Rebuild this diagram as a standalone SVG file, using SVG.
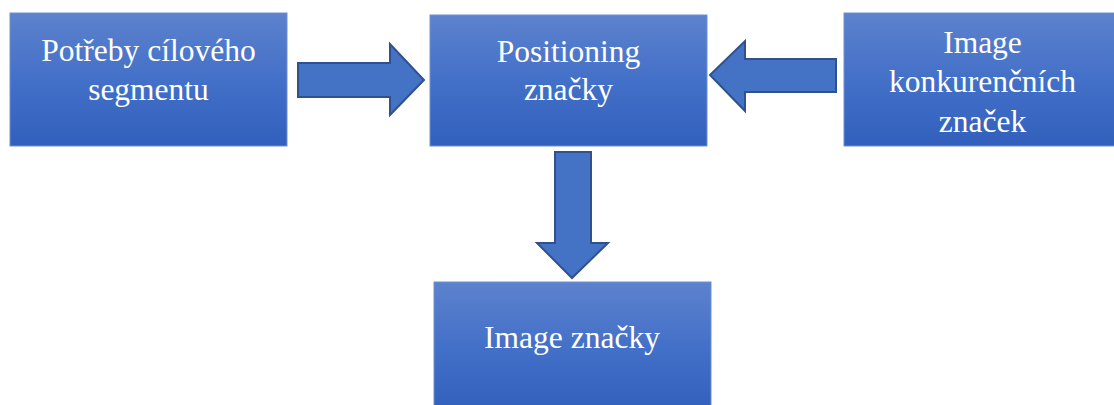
<svg xmlns="http://www.w3.org/2000/svg" width="1114" height="405" viewBox="0 0 1114 405">
<defs>
<linearGradient id="g" x1="0" y1="0" x2="0" y2="1">
<stop offset="0" stop-color="#5d82cd"/>
<stop offset="0.5" stop-color="#4370c8"/>
<stop offset="1" stop-color="#3160bc"/>
</linearGradient>
<style>
.box{fill:url(#g);stroke:#6f8fd2;stroke-width:1}
.arr{fill:#4472c4;stroke:#2f528f;stroke-width:2;stroke-linejoin:miter}
.t{font-family:'Times New Roman','Liberation Serif',Times,'DejaVu Serif',serif;font-size:31.5px;fill:#ffffff;text-anchor:middle}
</style>
</defs>
<rect width="1114" height="405" fill="#ffffff"/>
<g id="connectors">
<path class="arr" d="M298,63 H390 V44 L424,80 L390,115 V97 H298 Z"/>
<path class="arr" d="M836,59 H745 V41 L710,75 L745,111 V92 H836 Z"/>
<path class="arr" d="M555,152 H591 V243 H608 L572,278 L537,243 H555 Z"/>
</g>
<g id="node-potreby">
<rect class="box" x="10" y="13" width="277" height="133"/>
<text class="t" x="148.5" y="61">Potřeby cílového</text>
<text class="t" x="148.5" y="100">segmentu</text>
</g>
<g id="node-positioning">
<rect class="box" x="430" y="15" width="277" height="131"/>
<text class="t" x="568.5" y="62">Positioning</text>
<text class="t" x="568.5" y="100">značky</text>
</g>
<g id="node-konkurence">
<rect class="box" x="844" y="13" width="277" height="133"/>
<text class="t" x="982.5" y="53">Image</text>
<text class="t" x="982.5" y="92">konkurenčních</text>
<text class="t" x="982.5" y="132">značek</text>
</g>
<g id="node-image">
<rect class="box" x="434" y="282" width="277" height="130"/>
<text class="t" x="572" y="348">Image značky</text>
</g>
</svg>
